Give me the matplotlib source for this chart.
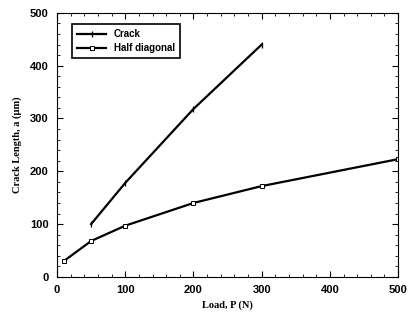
import matplotlib.pyplot as plt
from matplotlib.ticker import MultipleLocator

crack_load = [50, 100, 200, 300]
crack_len = [100, 178, 318, 440]

diag_load = [10, 50, 100, 200, 300, 500]
diag_len = [30, 68, 97, 140, 172, 223]

fig = plt.figure(figsize=(4.1, 3.22), dpi=100)
ax = fig.add_axes([0.139, 0.14, 0.832, 0.82])

ax.plot(crack_load, crack_len, color='black', lw=1.6, marker='|', ms=5, mew=0.9,
        label='Crack')
ax.plot(diag_load, diag_len, color='black', lw=1.6, marker='s', ms=3.2, mfc='white',
        mew=0.7, label='Half diagonal')

ax.set_xlim(0, 500)
ax.set_ylim(0, 500)
ax.xaxis.set_major_locator(MultipleLocator(100))
ax.yaxis.set_major_locator(MultipleLocator(100))
ax.xaxis.set_minor_locator(MultipleLocator(20))
ax.yaxis.set_minor_locator(MultipleLocator(20))
ax.tick_params(which='both', direction='in', top=True, right=True)
ax.tick_params(which='major', length=4, labelsize=8, pad=6)
ax.tick_params(which='minor', length=2)
for lbl in ax.get_xticklabels() + ax.get_yticklabels():
    lbl.set_fontfamily('Liberation Sans')
    lbl.set_fontweight('bold')
for s in ax.spines.values():
    s.set_linewidth(0.8)

ax.set_xlabel('Load, P (N)', family='Liberation Serif', weight='bold', fontsize=7.5,
              labelpad=4)
ax.set_ylabel('Crack Length, a (\u00b5m)', family='Liberation Serif', weight='bold',
              fontsize=7.5, labelpad=6)

leg = ax.legend(loc='upper left', bbox_to_anchor=(0.03, 0.975),
                prop={'family': 'Liberation Sans', 'weight': 'bold', 'size': 7},
                fancybox=False, edgecolor='black', framealpha=1, handlelength=3,
                borderpad=0.5, labelspacing=0.4)
leg.get_frame().set_linewidth(1.2)

fig.savefig('out.png', dpi=100)
